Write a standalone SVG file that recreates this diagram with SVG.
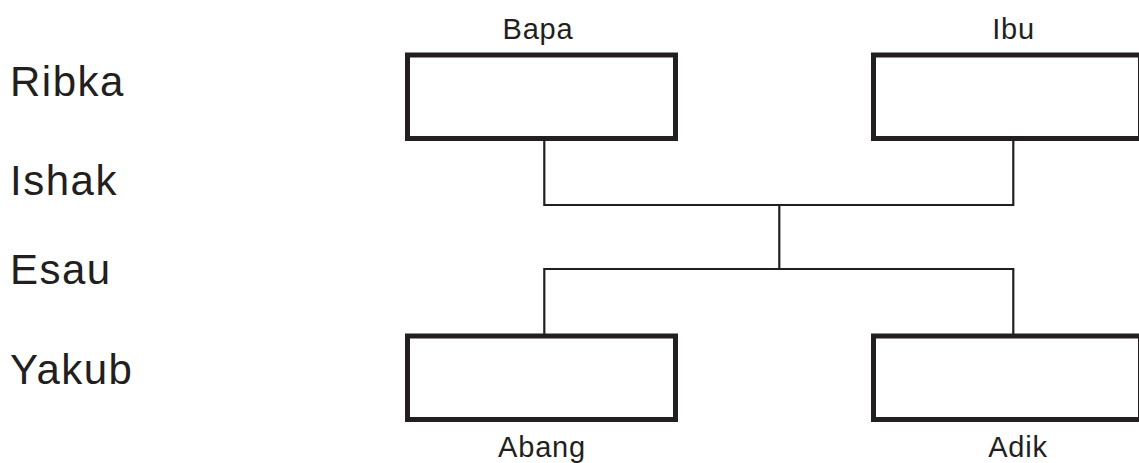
<svg xmlns="http://www.w3.org/2000/svg" width="1139" height="463" viewBox="0 0 1139 463">
<style>
.box{fill:#fff;stroke:#231f20;stroke-width:5}
.con{fill:none;stroke:#231f20;stroke-width:2.2}
.lbl{font-family:"Liberation Sans",Arial,sans-serif;font-size:29px;fill:#231f20;text-anchor:middle;letter-spacing:0.8px}
.side{font-family:"Liberation Sans",Arial,sans-serif;font-size:42px;fill:#231f20;letter-spacing:1.5px}
</style>
<rect width="1139" height="463" fill="#fff"/>
<g id="connectors">
<polyline class="con" points="544.3,138 544.3,205 1013.3,205 1013.3,138"/>
<line class="con" x1="779.3" y1="205" x2="779.3" y2="269"/>
<polyline class="con" points="544.3,336 544.3,269 1013.3,269 1013.3,336"/>
</g>
<g id="node-bapa">
<rect class="box" x="407.5" y="55" width="268" height="83.5"/>
<text class="lbl" x="538" y="39">Bapa</text>
</g>
<g id="node-ibu">
<rect class="box" x="873.5" y="55" width="267" height="83.5"/>
<text class="lbl" x="1013.5" y="39">Ibu</text>
</g>
<g id="node-abang">
<rect class="box" x="407.5" y="336" width="268" height="83.5"/>
<text class="lbl" x="542" y="457">Abang</text>
</g>
<g id="node-adik">
<rect class="box" x="873.5" y="336" width="267" height="83.5"/>
<text class="lbl" x="1018" y="457">Adik</text>
</g>
<g id="side-labels">
<text class="side" x="10" y="96">Ribka</text>
<text class="side" x="10" y="195">Ishak</text>
<text class="side" x="10" y="284">Esau</text>
<text class="side" x="10" y="384">Yakub</text>
</g>
</svg>
